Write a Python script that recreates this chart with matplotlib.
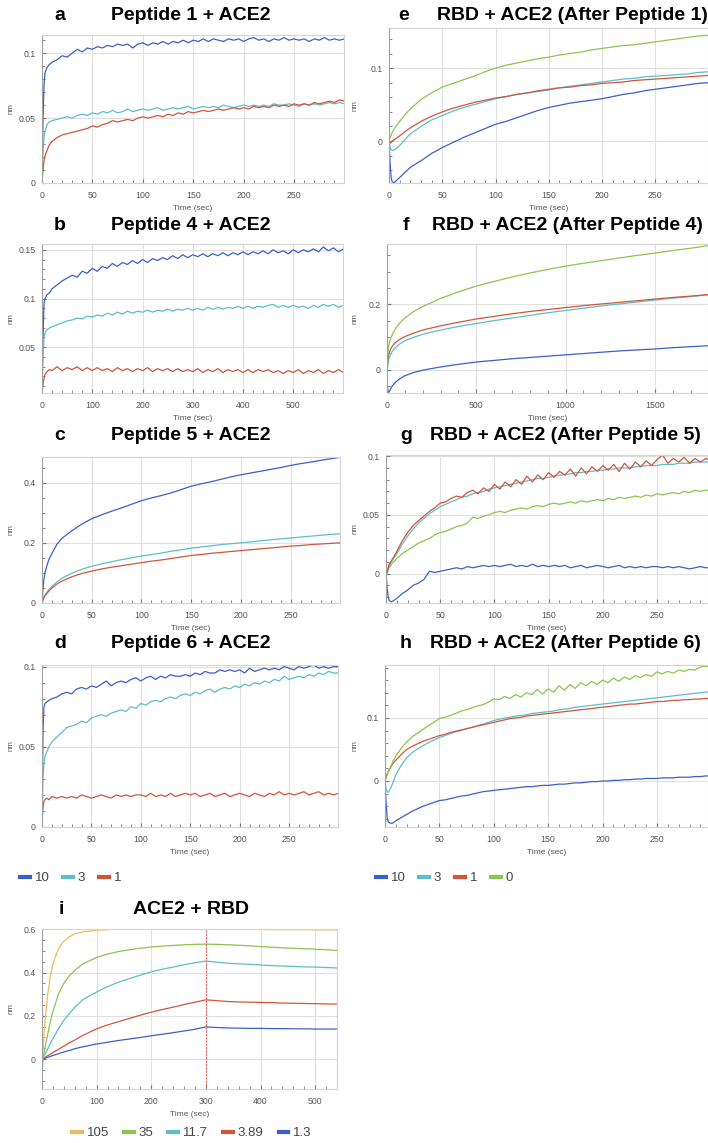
import matplotlib
matplotlib.use("Agg")
import matplotlib.pyplot as plt
from matplotlib.ticker import MultipleLocator, FuncFormatter
from matplotlib.lines import Line2D

# --- colours used by the instrument software ---
BLUE = "#3b5fc9"
CYAN = "#5dbdc9"
RED = "#d2553a"
GREEN = "#8bc550"
YELLOW = "#efba5e"

# --- time bases (sec) ---
T_FINE = [0, 1, 2, 3, 5, 7, 10] + list(range(15, 301, 5))
T_B = [0, 2, 4, 6, 10, 15] + list(range(20, 601, 10))
T_C = [0, 1, 2, 3, 5, 7, 10, 15] + list(range(20, 301, 10))
T_F = [0, 5, 10, 20, 30, 50, 75, 100, 150] + list(range(200, 1801, 100))
T_I = [0, 1, 3, 5, 10, 15, 20, 30, 40, 50, 60, 75] + list(range(100, 541, 20))

# --- a: Peptide 1 + ACE2 ---
a_10 = [0.000, 0.050, 0.075, 0.085, 0.089, 0.091, 0.093,
        0.095, 0.098, 0.097, 0.100, 0.103, 0.101, 0.104, 0.103, 0.105, 0.104,
        0.106, 0.105, 0.107, 0.106, 0.107, 0.104, 0.107, 0.108, 0.106, 0.108,
        0.107, 0.109, 0.107, 0.109, 0.108, 0.110, 0.108, 0.110, 0.109, 0.111,
        0.109, 0.111, 0.110, 0.109, 0.111, 0.110, 0.111, 0.109, 0.111, 0.112,
        0.110, 0.111, 0.109, 0.111, 0.110, 0.112, 0.110, 0.111, 0.110, 0.111,
        0.109, 0.111, 0.110, 0.112, 0.110, 0.111, 0.110, 0.111]
a_3 = [0.000, 0.025, 0.035, 0.040, 0.045, 0.047, 0.048,
       0.049, 0.050, 0.051, 0.050, 0.052, 0.053, 0.052, 0.054, 0.053, 0.055,
       0.054, 0.056, 0.054, 0.055, 0.057, 0.055, 0.056, 0.057, 0.056, 0.057,
       0.058, 0.056, 0.057, 0.058, 0.057, 0.058, 0.059, 0.057, 0.058, 0.059,
       0.058, 0.059, 0.058, 0.060, 0.059, 0.058, 0.059, 0.060, 0.059, 0.060,
       0.059, 0.060, 0.059, 0.061, 0.060, 0.060, 0.061, 0.060, 0.059, 0.061,
       0.060, 0.061, 0.060, 0.061, 0.062, 0.061, 0.062, 0.061]
a_1 = [0.000, 0.010, 0.017, 0.021, 0.025, 0.029, 0.032,
       0.035, 0.037, 0.038, 0.039, 0.040, 0.041, 0.042, 0.044, 0.043, 0.045,
       0.046, 0.048, 0.047, 0.048, 0.049, 0.048, 0.050, 0.051, 0.050, 0.051,
       0.052, 0.051, 0.053, 0.052, 0.054, 0.053, 0.055, 0.054, 0.055, 0.056,
       0.055, 0.056, 0.057, 0.056, 0.057, 0.058, 0.057, 0.058, 0.057, 0.059,
       0.058, 0.059, 0.058, 0.060, 0.059, 0.060, 0.059, 0.061, 0.060, 0.061,
       0.060, 0.062, 0.061, 0.062, 0.063, 0.062, 0.064, 0.063]

# --- b: Peptide 4 + ACE2 ---
b_10 = [0.005, 0.060, 0.095, 0.100, 0.104, 0.106,
        0.110, 0.114, 0.118, 0.121, 0.124, 0.122, 0.128, 0.126, 0.131, 0.128,
        0.133, 0.131, 0.136, 0.133, 0.137, 0.135, 0.139, 0.136, 0.140, 0.137,
        0.141, 0.139, 0.142, 0.140, 0.144, 0.141, 0.145, 0.142, 0.145, 0.143,
        0.146, 0.143, 0.146, 0.144, 0.147, 0.144, 0.147, 0.145, 0.148, 0.145,
        0.148, 0.146, 0.149, 0.146, 0.150, 0.147, 0.149, 0.146, 0.150, 0.147,
        0.150, 0.148, 0.151, 0.148, 0.153, 0.149, 0.152, 0.148, 0.151]
b_3 = [0.005, 0.040, 0.060, 0.065, 0.068, 0.070,
       0.071, 0.073, 0.075, 0.077, 0.078, 0.080, 0.079, 0.082, 0.081, 0.083,
       0.082, 0.085, 0.083, 0.086, 0.084, 0.087, 0.085, 0.087, 0.086, 0.088,
       0.086, 0.088, 0.087, 0.089, 0.087, 0.089, 0.088, 0.090, 0.088, 0.090,
       0.088, 0.091, 0.089, 0.091, 0.089, 0.091, 0.090, 0.092, 0.090, 0.092,
       0.090, 0.092, 0.091, 0.093, 0.094, 0.091, 0.093, 0.091, 0.093, 0.091,
       0.092, 0.090, 0.093, 0.091, 0.094, 0.092, 0.094, 0.091, 0.093]
b_1 = [0.004, 0.012, 0.018, 0.022, 0.025, 0.027,
       0.026, 0.030, 0.026, 0.029, 0.027, 0.030, 0.026, 0.029, 0.026, 0.029,
       0.026, 0.028, 0.025, 0.029, 0.026, 0.028, 0.025, 0.028, 0.026, 0.029,
       0.025, 0.028, 0.026, 0.028, 0.025, 0.028, 0.025, 0.027, 0.025, 0.028,
       0.024, 0.027, 0.025, 0.028, 0.024, 0.027, 0.025, 0.027, 0.024, 0.027,
       0.024, 0.027, 0.025, 0.027, 0.024, 0.026, 0.023, 0.026, 0.024, 0.027,
       0.023, 0.026, 0.024, 0.027, 0.023, 0.026, 0.024, 0.027, 0.024]

# --- c: Peptide 5 + ACE2 ---
c_10 = [0.000, 0.050, 0.080, 0.100, 0.125, 0.145, 0.165, 0.195,
        0.215, 0.240, 0.262, 0.280, 0.293, 0.305, 0.316, 0.328, 0.340, 0.349,
        0.357, 0.366, 0.377, 0.388, 0.396, 0.403, 0.411, 0.419, 0.426, 0.432,
        0.438, 0.444, 0.450, 0.457, 0.463, 0.468, 0.474, 0.479, 0.484]
c_3 = [0.000, 0.012, 0.020, 0.027, 0.036, 0.044, 0.055, 0.070,
       0.082, 0.099, 0.112, 0.122, 0.130, 0.137, 0.144, 0.150, 0.156, 0.161,
       0.166, 0.172, 0.177, 0.182, 0.186, 0.190, 0.194, 0.197, 0.200, 0.203,
       0.207, 0.210, 0.213, 0.216, 0.219, 0.222, 0.225, 0.228, 0.230]
c_1 = [0.000, 0.010, 0.018, 0.024, 0.032, 0.040, 0.050, 0.063,
       0.073, 0.087, 0.098, 0.106, 0.113, 0.119, 0.124, 0.129, 0.134, 0.139,
       0.143, 0.148, 0.153, 0.158, 0.161, 0.165, 0.168, 0.171, 0.174, 0.177,
       0.180, 0.183, 0.186, 0.189, 0.191, 0.194, 0.196, 0.198, 0.200]

# --- d: Peptide 6 + ACE2 ---
d_10 = [0.005, 0.060, 0.075, 0.077, 0.078, 0.079, 0.080,
        0.081, 0.083, 0.084, 0.083, 0.086, 0.087, 0.086, 0.088, 0.087, 0.089,
        0.091, 0.088, 0.090, 0.091, 0.090, 0.092, 0.093, 0.091, 0.093, 0.094,
        0.092, 0.094, 0.093, 0.095, 0.094, 0.094, 0.095, 0.094, 0.096, 0.095,
        0.097, 0.096, 0.096, 0.098, 0.097, 0.098, 0.097, 0.098, 0.096, 0.099,
        0.097, 0.098, 0.099, 0.098, 0.099, 0.098, 0.100, 0.099, 0.098, 0.100,
        0.099, 0.100, 0.101, 0.099, 0.100, 0.099, 0.100, 0.100]
d_3 = [0.003, 0.030, 0.040, 0.044, 0.047, 0.050, 0.053,
       0.056, 0.059, 0.062, 0.063, 0.064, 0.066, 0.065, 0.068, 0.069, 0.070,
       0.069, 0.071, 0.072, 0.073, 0.072, 0.075, 0.074, 0.077, 0.076, 0.078,
       0.079, 0.078, 0.080, 0.081, 0.080, 0.082, 0.083, 0.082, 0.084, 0.083,
       0.085, 0.086, 0.084, 0.086, 0.087, 0.086, 0.088, 0.087, 0.089, 0.088,
       0.090, 0.089, 0.091, 0.090, 0.092, 0.091, 0.094, 0.092, 0.093, 0.094,
       0.093, 0.095, 0.094, 0.096, 0.095, 0.097, 0.096, 0.096]
d_1 = [0.002, 0.012, 0.016, 0.017, 0.018, 0.017, 0.019,
       0.018, 0.019, 0.018, 0.019, 0.018, 0.020, 0.019, 0.018, 0.019, 0.020,
       0.019, 0.018, 0.020, 0.019, 0.020, 0.019, 0.020, 0.020, 0.019, 0.021,
       0.019, 0.020, 0.019, 0.021, 0.019, 0.020, 0.021, 0.020, 0.021, 0.019,
       0.020, 0.021, 0.019, 0.020, 0.021, 0.019, 0.020, 0.021, 0.020, 0.019,
       0.021, 0.020, 0.019, 0.021, 0.020, 0.022, 0.020, 0.021, 0.020, 0.021,
       0.022, 0.020, 0.021, 0.022, 0.020, 0.021, 0.020, 0.021]

# --- e: RBD + ACE2 (After Peptide 1) ---
e_0 = [0.000, 0.004, 0.008, 0.012, 0.017, 0.021, 0.027, 0.036,
       0.044, 0.057, 0.066, 0.074, 0.079, 0.084, 0.089, 0.095, 0.100, 0.104,
       0.107, 0.110, 0.113, 0.115, 0.118, 0.120, 0.122, 0.125, 0.127, 0.129,
       0.131, 0.132, 0.134, 0.136, 0.138, 0.140, 0.142, 0.144, 0.145]
e_1 = [-0.003, -0.003, -0.002, 0.000, 0.002, 0.004, 0.007, 0.013,
       0.018, 0.027, 0.034, 0.040, 0.045, 0.049, 0.053, 0.056, 0.059, 0.061,
       0.064, 0.066, 0.069, 0.071, 0.073, 0.074, 0.076, 0.077, 0.079, 0.080,
       0.081, 0.083, 0.084, 0.085, 0.086, 0.087, 0.088, 0.089, 0.090]
e_3 = [0.000, -0.008, -0.012, -0.013, -0.012, -0.010, -0.006, 0.002,
       0.010, 0.020, 0.029, 0.035, 0.041, 0.046, 0.050, 0.054, 0.058, 0.061,
       0.064, 0.066, 0.068, 0.070, 0.073, 0.075, 0.077, 0.079, 0.081, 0.083,
       0.085, 0.086, 0.088, 0.089, 0.090, 0.091, 0.092, 0.094, 0.095]
e_10 = [0.000, -0.030, -0.050, -0.056, -0.057, -0.054, -0.050, -0.043,
        -0.036, -0.027, -0.017, -0.009, -0.002, 0.005, 0.011, 0.017, 0.023, 0.027,
        0.032, 0.037, 0.042, 0.046, 0.049, 0.052, 0.054, 0.056, 0.058, 0.061,
        0.064, 0.066, 0.069, 0.071, 0.073, 0.075, 0.077, 0.079, 0.080]

# --- f: RBD + ACE2 (After Peptide 4) ---
f_0 = [0.000, 0.050, 0.075, 0.095, 0.108, 0.128, 0.145, 0.158, 0.178,
       0.193, 0.218, 0.238, 0.256, 0.270, 0.284, 0.296, 0.307, 0.317,
       0.326, 0.334, 0.342, 0.350, 0.357, 0.365, 0.372, 0.380]
f_1 = [0.000, 0.030, 0.048, 0.062, 0.072, 0.084, 0.094, 0.101, 0.112,
       0.121, 0.134, 0.145, 0.155, 0.163, 0.171, 0.178, 0.184, 0.190,
       0.196, 0.201, 0.206, 0.211, 0.216, 0.221, 0.225, 0.230]
f_3 = [-0.008, 0.015, 0.032, 0.046, 0.056, 0.069, 0.080, 0.088, 0.099,
       0.108, 0.121, 0.132, 0.141, 0.150, 0.158, 0.166, 0.174, 0.181,
       0.188, 0.195, 0.201, 0.207, 0.213, 0.219, 0.224, 0.229]
f_10 = [-0.040, -0.065, -0.070, -0.060, -0.050, -0.038, -0.027, -0.019, -0.009,
        -0.002, 0.008, 0.016, 0.023, 0.028, 0.033, 0.037, 0.041, 0.045,
        0.049, 0.053, 0.057, 0.060, 0.063, 0.067, 0.070, 0.073]

# --- g: RBD + ACE2 (After Peptide 5) ---
g_1 = [-0.002, 0.002, 0.005, 0.008, 0.011, 0.014, 0.019,
       0.028, 0.035, 0.041, 0.045, 0.049, 0.053, 0.056, 0.060, 0.061, 0.064,
       0.066, 0.065, 0.069, 0.071, 0.068, 0.073, 0.070, 0.076, 0.072, 0.078,
       0.074, 0.080, 0.076, 0.083, 0.078, 0.084, 0.080, 0.086, 0.082, 0.087,
       0.084, 0.089, 0.083, 0.090, 0.085, 0.091, 0.087, 0.092, 0.088, 0.093,
       0.087, 0.094, 0.089, 0.095, 0.091, 0.096, 0.092, 0.097, 0.101, 0.094,
       0.098, 0.095, 0.099, 0.094, 0.098, 0.095, 0.098, 0.096]
g_3 = [-0.002, 0.001, 0.004, 0.007, 0.010, 0.013, 0.017,
       0.025, 0.032, 0.038, 0.043, 0.047, 0.051, 0.054, 0.057, 0.059, 0.061,
       0.063, 0.065, 0.066, 0.068, 0.069, 0.070, 0.072, 0.073, 0.074, 0.075,
       0.076, 0.077, 0.078, 0.079, 0.080, 0.081, 0.081, 0.082, 0.083, 0.084,
       0.084, 0.085, 0.086, 0.086, 0.087, 0.087, 0.088, 0.088, 0.089, 0.089,
       0.090, 0.090, 0.090, 0.091, 0.091, 0.092, 0.092, 0.092, 0.093, 0.093,
       0.093, 0.094, 0.094, 0.094, 0.095, 0.095, 0.095, 0.095]
g_0 = [-0.003, 0.000, 0.003, 0.005, 0.008, 0.010, 0.013,
       0.017, 0.020, 0.023, 0.026, 0.028, 0.030, 0.033, 0.035, 0.036, 0.038,
       0.040, 0.041, 0.043, 0.048, 0.047, 0.049, 0.050, 0.052, 0.053, 0.052,
       0.054, 0.055, 0.056, 0.055, 0.057, 0.058, 0.057, 0.059, 0.060, 0.059,
       0.060, 0.061, 0.060, 0.062, 0.061, 0.062, 0.063, 0.062, 0.064, 0.063,
       0.065, 0.064, 0.065, 0.066, 0.065, 0.067, 0.066, 0.068, 0.067, 0.068,
       0.069, 0.068, 0.070, 0.069, 0.071, 0.070, 0.071, 0.071]
g_10 = [0.000, -0.012, -0.020, -0.023, -0.024, -0.023, -0.021,
        -0.017, -0.014, -0.010, -0.008, -0.005, 0.002, 0.001, 0.002, 0.003, 0.004,
        0.005, 0.004, 0.006, 0.005, 0.006, 0.007, 0.006, 0.007, 0.006, 0.007,
        0.008, 0.006, 0.007, 0.006, 0.008, 0.006, 0.007, 0.006, 0.007, 0.006,
        0.007, 0.005, 0.006, 0.007, 0.005, 0.006, 0.007, 0.006, 0.005, 0.006,
        0.007, 0.005, 0.006, 0.005, 0.006, 0.005, 0.006, 0.006, 0.005, 0.006,
        0.005, 0.006, 0.005, 0.004, 0.005, 0.006, 0.005, 0.005]

# --- h: RBD + ACE2 (After Peptide 6) ---
h_0 = [0.000, 0.005, 0.010, 0.015, 0.022, 0.030, 0.040,
       0.052, 0.062, 0.070, 0.076, 0.082, 0.088, 0.093, 0.099, 0.101, 0.104,
       0.107, 0.111, 0.113, 0.116, 0.119, 0.121, 0.125, 0.130, 0.129, 0.134,
       0.131, 0.137, 0.133, 0.140, 0.137, 0.145, 0.138, 0.146, 0.141, 0.151,
       0.144, 0.153, 0.147, 0.156, 0.151, 0.158, 0.153, 0.160, 0.156, 0.163,
       0.158, 0.165, 0.161, 0.167, 0.164, 0.169, 0.166, 0.173, 0.170, 0.174,
       0.171, 0.176, 0.174, 0.177, 0.176, 0.181, 0.182, 0.181]
h_1 = [0.000, 0.006, 0.011, 0.015, 0.021, 0.027, 0.033,
       0.042, 0.050, 0.055, 0.059, 0.063, 0.066, 0.069, 0.072, 0.074, 0.077,
       0.079, 0.081, 0.083, 0.085, 0.087, 0.089, 0.091, 0.093, 0.095, 0.097,
       0.099, 0.100, 0.101, 0.103, 0.104, 0.105, 0.106, 0.107, 0.108, 0.109,
       0.110, 0.111, 0.112, 0.113, 0.114, 0.115, 0.116, 0.117, 0.118, 0.119,
       0.120, 0.121, 0.122, 0.122, 0.123, 0.124, 0.125, 0.126, 0.126, 0.127,
       0.128, 0.128, 0.129, 0.129, 0.130, 0.130, 0.131, 0.131]
h_3 = [0.000, -0.012, -0.017, -0.018, -0.012, -0.004, 0.010,
       0.025, 0.037, 0.045, 0.051, 0.056, 0.061, 0.065, 0.069, 0.072, 0.075,
       0.078, 0.080, 0.083, 0.085, 0.088, 0.090, 0.093, 0.096, 0.098, 0.100,
       0.101, 0.103, 0.104, 0.105, 0.107, 0.108, 0.109, 0.110, 0.111, 0.113,
       0.114, 0.115, 0.117, 0.118, 0.119, 0.120, 0.121, 0.122, 0.123, 0.124,
       0.125, 0.126, 0.127, 0.128, 0.129, 0.130, 0.131, 0.132, 0.133, 0.134,
       0.135, 0.136, 0.137, 0.138, 0.139, 0.140, 0.141, 0.142]
h_10 = [0.000, -0.035, -0.058, -0.065, -0.067, -0.067, -0.063,
        -0.058, -0.053, -0.048, -0.044, -0.040, -0.037, -0.034, -0.031, -0.030, -0.028,
        -0.026, -0.024, -0.023, -0.021, -0.019, -0.017, -0.016, -0.015, -0.014, -0.013,
        -0.012, -0.011, -0.010, -0.009, -0.009, -0.008, -0.007, -0.007, -0.006, -0.005,
        -0.005, -0.004, -0.003, -0.003, -0.002, -0.001, -0.001, 0.000, 0.000, 0.001,
        0.001, 0.002, 0.002, 0.003, 0.003, 0.004, 0.004, 0.004, 0.005, 0.005,
        0.005, 0.006, 0.006, 0.006, 0.007, 0.007, 0.008, 0.008]

# --- i: ACE2 + RBD ---
i_105 = [-0.12, 0.000, 0.090, 0.160, 0.290, 0.380, 0.440, 0.510, 0.545, 0.565, 0.578, 0.588,
         0.595, 0.598, 0.600, 0.600, 0.600, 0.600, 0.600, 0.600, 0.600, 0.600, 0.600, 0.599,
         0.599, 0.599, 0.599, 0.599, 0.598, 0.598, 0.598, 0.598, 0.597, 0.597, 0.597]
i_35 = [-0.12, 0.000, 0.020, 0.045, 0.110, 0.170, 0.220, 0.300, 0.350, 0.385, 0.410, 0.440,
        0.470, 0.485, 0.497, 0.505, 0.512, 0.518, 0.522, 0.525, 0.528, 0.530, 0.531, 0.530,
        0.528, 0.526, 0.523, 0.520, 0.517, 0.514, 0.512, 0.510, 0.508, 0.505, 0.502]
i_11_7 = [-0.12, 0.000, 0.010, 0.020, 0.045, 0.070, 0.095, 0.140, 0.180, 0.210, 0.240, 0.275,
          0.310, 0.335, 0.355, 0.372, 0.388, 0.403, 0.415, 0.425, 0.436, 0.445, 0.453, 0.448,
          0.443, 0.440, 0.438, 0.435, 0.432, 0.430, 0.428, 0.426, 0.425, 0.423, 0.421]
i_3_89 = [-0.12, 0.000, 0.004, 0.008, 0.015, 0.022, 0.030, 0.045, 0.060, 0.075, 0.088, 0.110,
          0.140, 0.158, 0.173, 0.188, 0.203, 0.217, 0.229, 0.240, 0.252, 0.263, 0.274, 0.270,
          0.266, 0.264, 0.263, 0.262, 0.261, 0.259, 0.258, 0.257, 0.256, 0.255, 0.254]
i_1_3 = [-0.12, 0.000, 0.002, 0.004, 0.008, 0.012, 0.017, 0.025, 0.033, 0.040, 0.048, 0.057,
         0.070, 0.078, 0.086, 0.093, 0.100, 0.108, 0.115, 0.122, 0.130, 0.138, 0.149, 0.146,
         0.144, 0.143, 0.142, 0.142, 0.141, 0.141, 0.140, 0.140, 0.139, 0.139, 0.139]
i_switch = 300  # association -> dissociation

pep_labels = ["10", "3", "1"]
rbd_labels = ["10", "3", "1", "0"]
ace_labels = ["105", "35", "11.7", "3.89", "1.3"]

# ---------------------------------------------------------------
W, H = 708, 1143
plt.rcParams["font.family"] = ["Liberation Sans", "DejaVu Sans"]
fig = plt.figure(figsize=(W / 100, H / 100), dpi=100)
fig.set_facecolor("white")

fmt = FuncFormatter(lambda v, p: f"{v:g}" if abs(v) > 1e-9 else "0")


def panel(box, t, series, colors, xlim, ylim, xstep, xminor, ystep, yminor, nm_x):
    l, top, r, b = box
    ax = fig.add_axes([l / W, 1 - b / H, (r - l) / W, (b - top) / H])
    for y, c in zip(series, colors):
        ax.plot(t, y, color=c, lw=0.9)
    ax.set_xlim(*xlim)
    ax.set_ylim(*ylim)
    ax.xaxis.set_major_locator(MultipleLocator(xstep))
    ax.xaxis.set_minor_locator(MultipleLocator(xminor))
    ax.yaxis.set_major_locator(MultipleLocator(ystep))
    ax.yaxis.set_minor_locator(MultipleLocator(yminor))
    ax.yaxis.set_major_formatter(fmt)
    ax.grid(True, which="major", color="#e0e0e0", lw=0.8)
    ax.set_axisbelow(True)
    ax.tick_params(which="both", direction="in", color="#777", labelcolor="#555",
                   labelsize=6.3)
    ax.tick_params(axis="x", pad=5.5)
    ax.tick_params(axis="y", pad=4.5)
    ax.tick_params(which="major", length=3)
    ax.tick_params(which="minor", length=2.5)
    for s in ax.spines.values():
        s.set_color("#d4d4d4")
        s.set_linewidth(0.8)
    ax.spines["left"].set_color("#a0a0a0")
    ax.set_xlabel("Time (sec)", fontsize=6, color="#555")
    ax.xaxis.set_label_coords(0.5, -22 / (b - top))
    ax.set_ylabel("nm", fontsize=5.8, color="#555")
    ax.yaxis.set_label_coords(-(l - nm_x) / (r - l), 0.5)
    return ax


def title(letter, text, lx, tx, ty):
    fig.text(lx / W, 1 - ty / H, letter, fontsize=14, fontweight="bold", ha="center", va="center")
    fig.text(tx / W, 1 - ty / H, text, fontsize=14, fontweight="bold", ha="center", va="center")


pep_cols = [BLUE, CYAN, RED]
rbd_cols = [BLUE, CYAN, RED, GREEN]
ace_cols = [YELLOW, GREEN, CYAN, RED, BLUE]

panel((42, 35, 344, 183), T_FINE, [a_10, a_3, a_1], pep_cols, (0, 299.5), (0, 0.114), 50, 10, 0.05, 0.01, 15)
title("a", "Peptide 1 + ACE2", 60, 191, 15)
panel((42, 244, 343, 393), T_B, [b_10, b_3, b_1], pep_cols, (0, 599), (0.003, 0.156), 100, 20, 0.05, 0.01, 15)
title("b", "Peptide 4 + ACE2", 60, 191, 225)
panel((42, 457, 340, 603), T_C, [c_10, c_3, c_1], pep_cols, (0, 299.5), (0, 0.485), 50, 10, 0.2, 0.05, 15)
title("c", "Peptide 5 + ACE2", 60, 191, 435)
panel((42, 665, 338, 827), T_FINE, [d_10, d_3, d_1], pep_cols, (0, 299.5), (0, 0.101), 50, 10, 0.05, 0.01, 15)
title("d", "Peptide 6 + ACE2", 60, 191, 643)

panel((389, 28, 708, 183), T_C, [e_10, e_3, e_1, e_0], rbd_cols, (0, 299.5), (-0.0575, 0.155), 50, 10, 0.1, 0.02, 359)
title("e", "RBD + ACE2 (After Peptide 1)", 404, 572, 15)
panel((387, 244, 708, 393), T_F, [f_10, f_3, f_1, f_0], rbd_cols, (0, 1798), (-0.072, 0.385), 500, 100, 0.2, 0.05, 359)
title("f", "RBD + ACE2 (After Peptide 4)", 406, 567, 225)
panel((386, 455, 708, 603), T_FINE, [g_10, g_0, g_3, g_1], [BLUE, GREEN, CYAN, RED], (0, 297), (-0.025, 0.101), 50, 10, 0.05, 0.01, 359)
title("g", "RBD + ACE2 (After Peptide 5)", 406, 565, 435)
panel((385, 665, 708, 827), T_FINE, [h_10, h_3, h_1, h_0], rbd_cols, (0, 297), (-0.073, 0.184), 50, 10, 0.1, 0.02, 359)
title("h", "RBD + ACE2 (After Peptide 6)", 406, 565, 643)

ax_i = panel((42, 929, 337, 1089), T_I, [i_1_3, i_3_89, i_11_7, i_35, i_105], ace_cols[::-1],
             (0, 540), (-0.138, 0.601), 100, 20, 0.2, 0.05, 15)
ax_i.axvline(i_switch, color="#e06666", lw=0.8, ls=(0, (2, 1)))
title("i", "ACE2 + RBD", 61, 191, 910)


def legend(labels, colors, x, y, spacing):
    handles = [Line2D([], [], color=c, lw=3) for c in colors]
    fig.legend(handles, labels, loc="center left", bbox_to_anchor=(x / W, 1 - y / H),
               ncol=len(labels), frameon=False, fontsize=9.5, handlelength=0.75,
               handletextpad=0.35, columnspacing=spacing, labelcolor="#444",
               borderpad=0, borderaxespad=0)


legend(pep_labels, pep_cols, 20, 878, 1.05)
legend(rbd_labels, rbd_cols, 376, 878, 1.05)
legend(ace_labels, ace_cols, 72, 1133, 1.15)

fig.savefig("out.png", dpi=100, facecolor="white")
